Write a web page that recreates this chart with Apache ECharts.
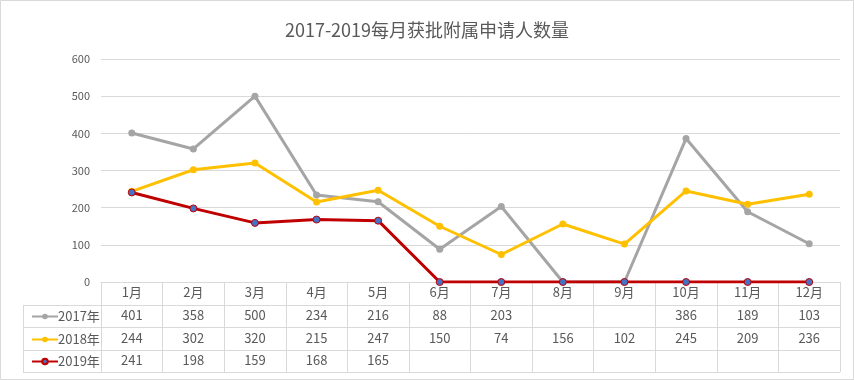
<!DOCTYPE html>
<html><head><meta charset="utf-8">
<script src="https://cdn.jsdelivr.net/npm/echarts@6/dist/echarts.min.js"></script>
<style>html,body{margin:0;padding:0;background:#fff}#c{width:854px;height:380px}</style>
</head><body><div id="c"></div>
<script>
const title = '2017-2019每月获批附属申请人数量';
const months = ['1月','2月','3月','4月','5月','6月','7月','8月','9月','10月','11月','12月'];
const seriesNames = ['2017年','2018年','2019年'];
const v2017 = [401,358,500,234,216,88,203,null,null,386,189,103];
const v2018 = [244,302,320,215,247,150,74,156,102,245,209,236];
const v2019 = [241,198,159,168,165,null,null,null,null,null,null,null];
const yTicks = [0,100,200,300,400,500,600];

const W = 854, H = 380;
const gL = 101, gR = 840, gT = 59, gB = 282;
const rowH = 22.6;
const tableLeft = 23;
const font = '"Noto Sans CJK SC", "Noto Sans", sans-serif';
const txt = '#595959', lineC = '#D9D9D9';
const colors = ['#A5A5A5', '#FFC000', '#C00000'];
const allVals = [v2017, v2018, v2019];

const chart = echarts.init(document.getElementById('c'), null, {renderer:'canvas'});

const extraAxes = allVals.map((vals, i) => ({
  type:'category', data: vals.map(v => v == null ? '' : String(v)), position:'bottom', offset:0,
  gridIndex:0, boundaryGap:true,
  axisLine:{show:false}, axisTick:{show:false}, splitLine:{show:false},
  axisLabel:{interval:0, margin: 4 + (i+1)*rowH, color: txt, fontSize: 13, fontFamily: font}
}));

const series = allVals.map((vals, i) => ({
  name: seriesNames[i], type:'line', xAxisIndex:0, yAxisIndex:0,
  data: vals.map(v => v == null ? 0 : v),  // empty cells shown as zero (Excel setting)
  symbol:'circle', symbolSize: 7,
  lineStyle:{color: colors[i], width: 3},
  itemStyle: i === 2 ? {color:'#4472C4', borderColor:'#C00000', borderWidth:1} : {color: colors[i]},
  emphasis:{disabled:true}, animation:false
}));

const graphics = [
  {type:'rect', shape:{x:0.5, y:0.5, width:W-1, height:H-1}, style:{fill:'none', stroke:'#D9D9D9', lineWidth:1}, silent:true}
];
for (let r = 1; r <= 4; r++) {
  const y = Math.round(gB + r * rowH) + 0.5;
  graphics.push({type:'line', shape:{x1:tableLeft, y1:y, x2:gR, y2:y}, style:{stroke:lineC, lineWidth:1}, silent:true});
}
graphics.push({type:'line', shape:{x1:tableLeft+0.5, y1:Math.round(gB+rowH)+0.5, x2:tableLeft+0.5, y2:Math.round(gB+4*rowH)+0.5}, style:{stroke:lineC, lineWidth:1}, silent:true});

const legends = seriesNames.map((n, i) => ({
  orient:'horizontal', left:26, top: Math.round(gB + (i+1.5)*rowH - 11),
  itemWidth: 26, itemHeight: 7, itemGap: 0,
  data:[n], textStyle:{color:txt, fontSize:13, fontFamily:font, padding:[0,0,6,-5]}, selectedMode:false
}));

chart.setOption({
  animation:false,
  backgroundColor:'#fff',
  title:{text:title, left:'center', top:16, textStyle:{fontSize:18, fontWeight:'normal', color:txt, fontFamily:font}},
  legend: legends,
  grid:{left:gL, right:W-gR, top:gT, bottom:H-gB, containLabel:false},
  xAxis:[{
    type:'category', data: months, boundaryGap:true, position:'bottom',
    axisLine:{show:true, lineStyle:{color:lineC, width:1}},
    axisTick:{show:true, interval:0, length: Math.round(4*rowH), lineStyle:{color:lineC}},
    axisLabel:{interval:0, margin:4, color:txt, fontSize:13, fontFamily:font}
  }].concat(extraAxes),
  yAxis:{type:'value', min:yTicks[0], max:yTicks[yTicks.length-1], interval:100,
    axisLine:{show:false}, axisTick:{show:false},
    splitLine:{lineStyle:{color:lineC, width:1}},
    axisLabel:{color:txt, fontSize:11, fontFamily:font, margin:11}},
  series: series,
  graphic: graphics
});
</script></body></html>
